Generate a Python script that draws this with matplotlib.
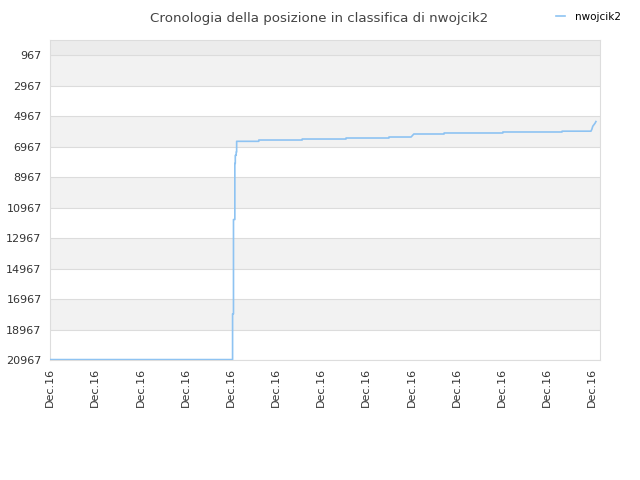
import numpy as np
import matplotlib
matplotlib.use("Agg")
import matplotlib.pyplot as plt

# rank history (x in day-tick units, rank values)
days = [0, 4.04, 4.04, 4.06, 4.06, 4.09, 4.09, 4.10, 4.10, 4.12, 4.12, 4.13, 4.13,
        4.62, 4.62, 5.58, 5.58, 6.55, 6.55, 7.50, 7.50, 7.99, 8.05, 8.72, 8.72,
        10.02, 10.02, 11.33, 11.33, 11.97, 11.99, 12.01, 12.06, 12.08]
ranks = [20940, 20940, 17940, 17940, 11756, 11756, 8072, 8072, 7546, 7546, 7328, 7328, 6625,
         6625, 6540, 6540, 6474, 6474, 6408, 6408, 6342, 6342, 6145, 6145, 6079,
         6079, 6013, 6013, 5960, 5960, 5835, 5638, 5441, 5329]
y_ticks = [967, 2967, 4967, 6967, 8967, 10967, 12967, 14967, 16967, 18967, 20967]
x_labels = ["Dec.16"] * 13
player = "nwojcik2"

fig = plt.figure(figsize=(6.4, 4.8), dpi=100)
ax = fig.add_axes([50/640, 120/480, 550/640, 320/480])

# alternating bands
ax.axhspan(-20, 967, color="#ececec", zorder=0, lw=0)
for i in range(len(y_ticks) - 1):
    if i % 2 == 0:
        ax.axhspan(y_ticks[i], y_ticks[i+1], color="#f2f2f2", zorder=0, lw=0)

ax.plot(days, ranks, color="#8ec3f2", lw=1.2, label=player, zorder=3)

ax.set_ylim(20967, -20)
ax.set_xlim(0, 12.17)
ax.set_yticks(y_ticks)
ax.set_yticklabels([str(v) for v in y_ticks])
ax.set_xticks(np.arange(13))
ax.set_xticklabels(x_labels, rotation=90)
ax.grid(True, axis="y", color="#dcdcdc", lw=0.8)
ax.set_axisbelow(True)
ax.tick_params(length=0, labelsize=8, labelcolor="#333333", pad=6)
for s in ax.spines.values():
    s.set_color("#dddddd")

fig.text(0.499, 0.976, "Cronologia della posizione in classifica di nwojcik2",
         ha="center", va="top", fontsize=9.6, color="#444444")
fig.legend(loc="upper right", bbox_to_anchor=(0.985, 0.995), frameon=False,
           fontsize=7.5, handlelength=0.8, handletextpad=1.0)

fig.savefig("out.png")
